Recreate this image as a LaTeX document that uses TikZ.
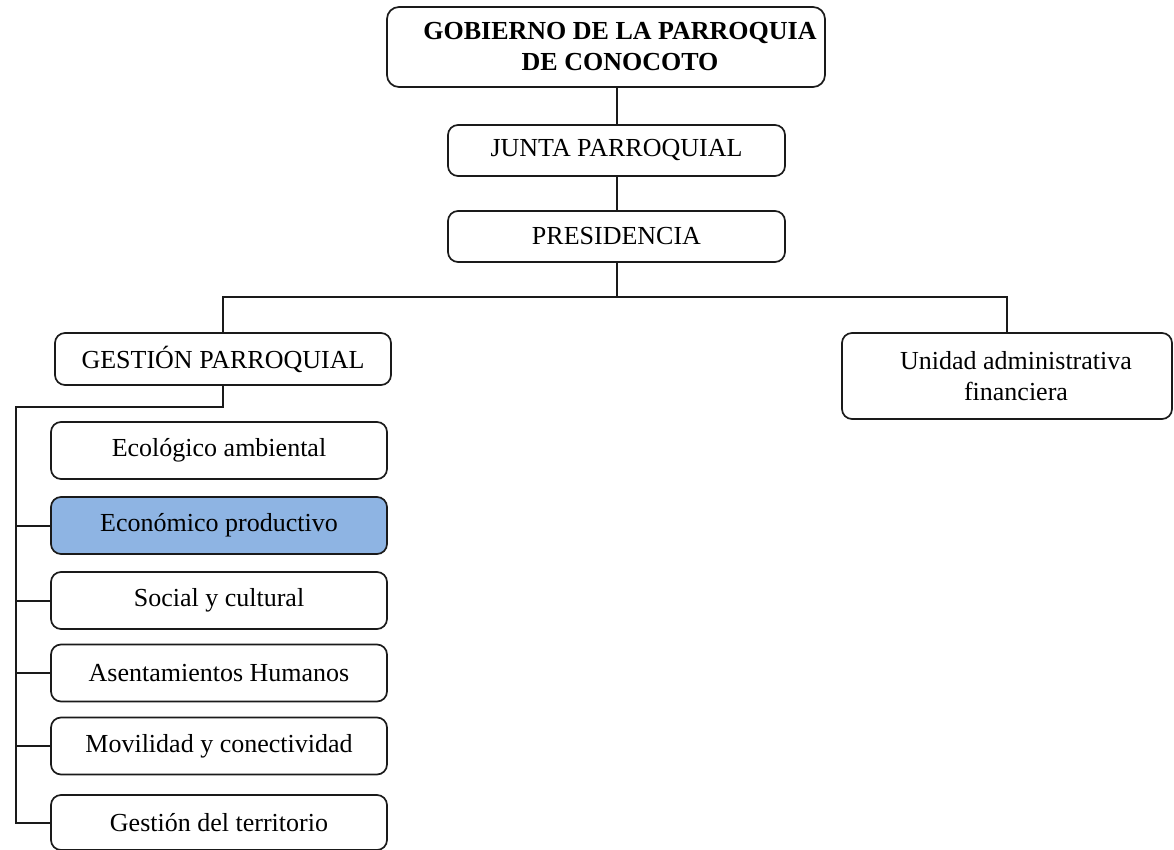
\documentclass[tikz,border=0pt]{standalone}
\usepackage{fontspec}
\setmainfont{Liberation Serif}
\usetikzlibrary{positioning}
\definecolor{OrgInk}{HTML}{000000}
\definecolor{OrgLine}{HTML}{1A1A1A}
\definecolor{OrgFocus}{HTML}{8EB4E3}
\tikzset{
  org text/.style={font=\fontsize{13}{15.5}\selectfont, text=OrgInk, align=center},
  org box/.style={org text, draw=OrgLine, line width=.85pt, rounded corners=5pt, inner sep=0pt},
  org head/.style={org box, font=\bfseries\fontsize{13}{15.5}\selectfont, rounded corners=6pt,
    minimum width=219pt, minimum height=40pt},
  org mid/.style={org box, minimum width=168.5pt, minimum height=25.5pt},
  org area/.style={org box, minimum width=168pt, minimum height=28.5pt},
  org focus/.style={org area, fill=OrgFocus},
  org link/.style={draw=OrgLine, line width=1pt},
}

\begin{document}
\begin{tikzpicture}[x=.5pt,y=-.5pt]
  \useasboundingbox (0,0) rectangle (1174,850);

  \node[org head] (gob) at (606,47)
    {\hspace*{14pt}GOBIERNO DE LA PARROQUIA\\ \hspace*{14pt}DE CONOCOTO};
  \node[org mid] (junta) at (616.5,150.5) {JUNTA PARROQUIAL};
  \node[org mid] (pres) at (616.5,236.5) {PRESIDENCIA};

  \node[org mid, minimum width=168pt, minimum height=26pt] (gest) at (223,359) {GESTIÓN PARROQUIAL};
  \node[org box, minimum width=165pt, minimum height=43pt] (unid) at (1007,376)
    {\hspace*{9pt}Unidad administrativa\\ \hspace*{9pt}financiera};

  \node[org area] (ecol) at (219,450.5) {Ecológico ambiental};
  \node[org focus] (econ) at (219,525.5) {Económico productivo};
  \node[org area] (soc) at (219,600.5) {Social y cultural};
  \node[org area] (asen) at (219,673) {Asentamientos Humanos};
  \node[org area] (movi) at (219,746) {Movilidad y conectividad};
  \node[org area, minimum height=27.5pt] (terr) at (219,822.5) {Gestión del territorio};

  \coordinate (split) at (616.5,297);
  \coordinate (bar) at (16,407);

  \draw[org link] (gob.south -| junta) -- (junta);
  \draw[org link] (junta) -- (pres);
  \draw[org link] (pres) -- (split);
  \draw[org link] (gest.north) |- (split) -| (unid.north);

  % ramas de la gestion parroquial
  \draw[org link] (gest.south) |- (bar) |- (terr.west);
  \foreach \area in {econ,soc,asen,movi}
    \draw[org link] (bar |- \area.west) -- (\area.west);
\end{tikzpicture}
\end{document}
